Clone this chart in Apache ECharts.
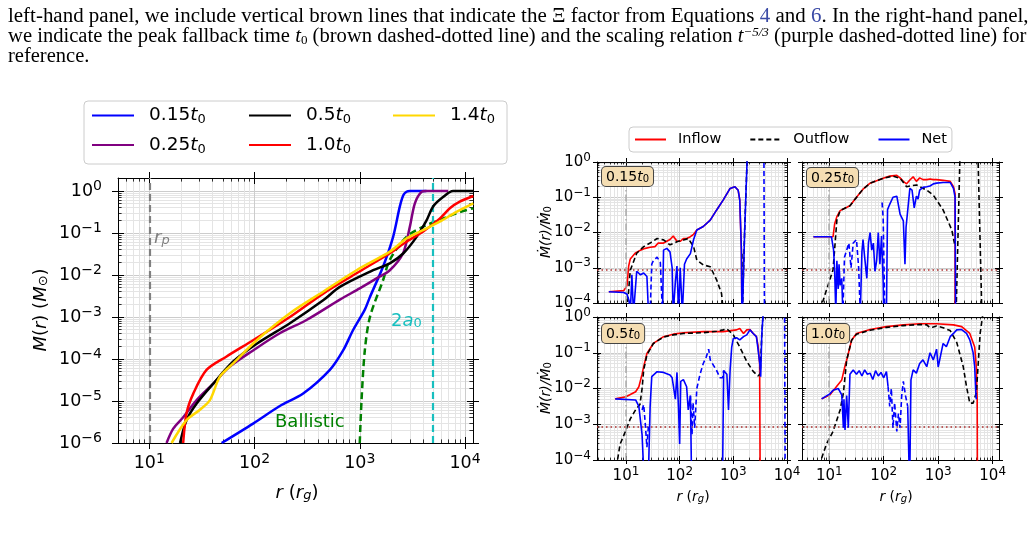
<!DOCTYPE html>
<html>
<head>
<meta charset="utf-8">
<title>Enclosed mass and mass flux</title>
<script src="https://cdn.jsdelivr.net/npm/echarts@6.0.0/dist/echarts.min.js"></script>
<style>
  html, body { margin: 0; padding: 0; background: #fff; }
  #chart { width: 1035px; height: 533px; }
</style>
</head>
<body>
<div id="chart"></div>
<script>
// ---- left panel: enclosed mass, points are [r (r_g), M (M_sun)]
const massTimes = ['0.15', '0.25', '0.5', '1.0', '1.4'];
const massColors = ['#0000ff', '#800080', '#000000', '#ff0000', '#ffd700'];
const mass015 = [[48.7,1e-6],[97,2.9e-6],[174,7.6e-6],[290,1.5e-5],[520,5.5e-5],[695,1.6e-4],[865,4.9e-4],[1117,1.5e-3],[1250,3.0e-3],[1667,1.6e-2],[2075,8.1e-2],[2404,0.43],[2600,0.8],[2780,0.96],[3000,1.0],[4300,1.0]];
const mass025 = [[14.6,1e-6],[16.9,2.2e-6],[21,4.1e-6],[28.2,1.05e-5],[40.6,2.6e-5],[58.3,6.6e-5],[97,1.6e-4],[174,4.1e-4],[312,8.5e-4],[647,2.6e-3],[1000,4.8e-3],[1445,8.3e-3],[1930,1.3e-2],[2580,3.3e-2],[2990,0.14],[3340,0.51],[3860,0.95],[4300,1.0],[6920,1.0]];
const mass05 = [[19.6,1e-6],[22.6,3.5e-6],[28.2,8.7e-6],[40.6,2.6e-5],[62.8,8.7e-5],[105,2.3e-4],[217,7.1e-4],[449,2.5e-3],[647,5.2e-3],[1341,1.3e-2],[1930,1.9e-2],[2600,3.3e-2],[3470,8.1e-2],[4310,0.2],[4980,0.43],[6190,0.72],[7710,1.0],[12000,1.0]];
const mass10 = [[21,1e-6],[22.6,5.1e-6],[26.2,1.5e-5],[35,5.5e-5],[54.3,1.15e-4],[97,2.8e-4],[217,1.0e-3],[449,3.6e-3],[933,1.1e-2],[1930,3.3e-2],[2780,6.2e-2],[3980,0.107],[5750,0.22],[7180,0.39],[8920,0.56],[12000,0.76]];
const mass14 = [[16.3,1e-6],[22.6,3.5e-6],[30.3,6.2e-6],[37.7,1.05e-5],[46.9,3.8e-5],[62.8,7.9e-5],[105,2.8e-4],[217,1.23e-3],[449,4.0e-3],[933,1.3e-2],[1930,3.6e-2],[2780,7.4e-2],[3980,0.117],[5750,0.186],[8300,0.32],[12000,0.51]];
const ballistic = [[1000,1e-6],[1040,1.05e-5],[1117,1.6e-4],[1250,1.0e-3],[1667,7.6e-3],[1930,2.3e-2],[2780,8.1e-2],[3980,0.141],[5750,0.204],[8300,0.295],[12000,0.39]];
const rPeri = 10;      // r_p
const twoA0 = 4900;    // 2 a_0

// ---- right panels: points are [log10 r, log10 Mdot/Mdot0], null breaks the line
const fluxTimes = ['0.15', '0.25', '0.5', '1.0'];
const mdotFloor = 8.5e-4;

const tlIn = [[0.68,-3.68],[0.96,-3.65],[1.02,-3.5],[1.05,-2.95],[1.08,-2.75],[1.17,-2.59],[1.27,-2.50],[1.36,-2.45],[1.45,-2.42],[1.54,-2.40],[1.60,-2.30],[1.70,-2.30],[1.76,-2.25],[1.82,-2.20],[1.88,-2.10],[1.95,-2.25],[2.01,-2.25],[2.07,-2.17],[2.13,-2.17],[2.20,-2.12],[2.26,-2.05],[2.32,-1.93],[2.44,-1.83],[2.57,-1.65],[2.69,-1.36],[2.81,-1.08],[2.94,-0.75],[3.03,-0.70],[3.09,-0.80],[3.12,-1.08],[3.15,-2.50],[3.16,-4.50]];
const tlOut = [[1.02,-4.2],[1.08,-3.07],[1.20,-2.59],[1.33,-2.40],[1.45,-2.30],[1.58,-2.17],[1.70,-2.21],[1.82,-2.35],[1.95,-2.26],[2.07,-2.21],[2.16,-2.17],[2.26,-2.40],[2.32,-2.78],[2.44,-2.92],[2.57,-2.97],[2.69,-3.35],[2.78,-3.73],[2.81,-4.2],null,[3.16,-2.6],[3.162,-4.2],null,[3.17,-4.2],[3.21,-2.0],[3.26,0.2]];
const tlNetPos = [[0.68,-3.68],[0.96,-3.70],[1.02,-3.75],[1.06,-3.95],[1.08,-4.3],[1.11,-3.2],[1.14,-4.3],[1.20,-3.1],[1.27,-3.2],[1.33,-3.15],[1.39,-3.25],[1.42,-4.3],null,[1.68,-4.3],[1.70,-2.5],[1.76,-2.45],[1.82,-2.55],[1.86,-3.0],[1.88,-4.3],[1.92,-3.4],[1.95,-2.95],[1.98,-4.3],[2.01,-3.0],[2.05,-4.3],[2.09,-2.9],[2.13,-2.75],[2.20,-2.6],[2.26,-2.2],[2.32,-1.93],[2.44,-1.83],[2.57,-1.65],[2.69,-1.36],[2.81,-1.08],[2.94,-0.75],[3.03,-0.70],[3.09,-0.80],[3.12,-1.08],[3.15,-2.5],[3.16,-4.3],null,[3.17,-4.3],[3.21,-2.0],[3.26,0.2]];
const tlNetNeg = [[1.45,-4.3],[1.48,-2.9],[1.51,-2.8],[1.58,-2.7],[1.64,-2.85],[1.68,-4.3],null,[3.57,0.2],[3.58,-4.3]];

const trIn = [[0.71,-2.12],[1.07,-2.12],[1.10,-1.75],[1.14,-1.55],[1.20,-1.38],[1.38,-1.24],[1.50,-1.0],[1.62,-0.77],[1.75,-0.60],[1.99,-0.46],[2.11,-0.40],[2.24,-0.38],[2.30,-0.45],[2.36,-0.55],[2.42,-0.62],[2.48,-0.51],[2.54,-0.42],[2.60,-0.55],[2.66,-0.45],[2.72,-0.50],[2.79,-0.50],[2.85,-0.48],[2.91,-0.50],[2.97,-0.50],[3.09,-0.52],[3.22,-0.55],[3.28,-0.70],[3.31,-0.90],[3.31,-4.5]];
const trOut = [[0.83,-4.2],[1.07,-3.06],[1.14,-1.65],[1.20,-1.38],[1.38,-1.24],[1.62,-0.77],[1.75,-0.60],[1.99,-0.46],[2.17,-0.40],[2.30,-0.46],[2.42,-0.70],[2.60,-0.65],[2.79,-0.80],[2.91,-0.94],[3.09,-1.36],[3.25,-1.93],[3.31,-2.40],null,[3.33,-4.2],[3.40,0.2],null,[3.73,0.2],[3.80,-4.2]];
const trNetPos = [[0.71,-2.12],[1.04,-2.12],[1.08,-2.5],[1.10,-3.1],[1.12,-4.3],[1.14,-2.8],[1.165,-3.6],[1.18,-2.9],[1.20,-3.5],[1.23,-3.3],[1.25,-4.3],null,[1.57,-4.3],[1.60,-2.55],[1.62,-2.2],[1.65,-2.7],[1.69,-3.3],[1.72,-2.3],[1.75,-2.0],[1.78,-2.5],[1.81,-2.3],[1.84,-3.1],[1.87,-2.8],[1.90,-2.0],[1.93,-2.9],[1.96,-2.1],[1.99,-3.4],[2.00,-4.3],null,[2.05,-4.3],[2.07,-1.35],[2.11,-1.2],[2.17,-1.0],[2.24,-0.97],[2.30,-1.48],[2.36,-1.67],[2.39,-2.9],[2.41,-1.85],[2.48,-0.75],[2.52,-0.8],[2.56,-1.3],[2.60,-0.97],[2.63,-1.05],[2.66,-0.8],[2.72,-0.72],[2.79,-0.70],[2.85,-0.68],[2.91,-0.62],[2.97,-0.60],[3.09,-0.58],[3.22,-0.58],[3.28,-0.75],[3.31,-1.0],[3.32,-4.3]];
const trNetNeg = [[1.25,-4.3],[1.28,-2.7],[1.32,-2.5],[1.36,-2.3],[1.40,-3.0],[1.44,-2.3],[1.50,-2.2],[1.54,-3.0],[1.57,-4.3],null,[1.97,-1.15],[1.99,-1.6],[2.02,-4.3]];

const blIn = [[0.80,-2.29],[1.00,-2.23],[1.18,-2.09],[1.24,-1.95],[1.30,-1.60],[1.33,-1.39],[1.39,-1.02],[1.51,-0.74],[1.70,-0.55],[1.88,-0.48],[2.07,-0.44],[2.44,-0.41],[2.81,-0.41],[3.06,-0.36],[3.12,-0.32],[3.19,-0.46],[3.25,-0.36],[3.31,-0.35],[3.37,-0.46],[3.43,-0.55],[3.46,-0.80],[3.49,-1.30],[3.50,-4.5]];
const blOut = [[0.82,-4.2],[0.89,-3.56],[0.99,-3.20],[1.08,-2.85],[1.19,-2.57],[1.26,-2.45],[1.30,-2.0],[1.33,-1.48],[1.39,-1.06],[1.51,-0.74],[1.70,-0.56],[1.88,-0.50],[2.07,-0.46],[2.44,-0.44],[2.69,-0.40],[2.81,-0.36],[2.88,-0.33],[3.00,-0.50],[3.12,-0.84],[3.25,-1.24],[3.37,-1.52],[3.46,-1.65],[3.50,-1.60],[3.53,-0.50],[3.56,0.2]];
const blNetPos = [[0.80,-2.29],[1.18,-2.32],[1.24,-2.5],[1.27,-2.9],[1.30,-3.3],[1.33,-4.3],null,[1.42,-4.3],[1.45,-2.5],[1.48,-1.67],[1.58,-1.53],[1.70,-1.55],[1.82,-1.62],[1.86,-1.70],[1.88,-1.72],[1.92,-2.3],[1.95,-1.55],[1.98,-2.6],[2.00,-3.55],[2.02,-1.8],[2.07,-1.75],[2.13,-1.95],[2.16,-2.6],[2.20,-2.2],[2.22,-4.3],null,[2.80,-4.3],[2.82,-1.5],[2.88,-1.6],[2.91,-2.6],[2.94,-1.48],[2.97,-0.84],[3.00,-0.6],[3.06,-0.58],[3.12,-0.64],[3.19,-0.55],[3.25,-0.50],[3.31,-0.36],[3.37,-0.46],[3.43,-0.55],[3.46,-0.9],[3.50,-1.39],[3.51,-1.67],[3.53,-0.5],[3.56,0.2]];
const blNetNeg = [[1.30,-2.6],[1.33,-2.45],[1.36,-3.0],[1.39,-3.64],[1.42,-3.0],null,[2.20,-2.2],[2.23,-3.3],[2.25,-2.4],[2.28,-3.1],[2.32,-2.0],[2.38,-1.6],[2.44,-1.3],[2.50,-1.1],[2.54,-0.90],[2.57,-1.2],[2.60,-1.2],[2.69,-1.5],[2.75,-1.7],[2.80,-1.7],[2.82,-1.5],null,[3.955,0.2],[3.965,-4.3]];

const brIn = [[0.86,-2.29],[1.01,-2.18],[1.23,-1.76],[1.30,-1.30],[1.32,-1.21],[1.41,-0.65],[1.50,-0.46],[1.75,-0.35],[2.05,-0.27],[2.36,-0.22],[2.66,-0.19],[2.97,-0.19],[3.28,-0.22],[3.43,-0.27],[3.58,-0.46],[3.67,-0.84],[3.70,-1.39],[3.716,-2.3],[3.72,-4.5]];
const brOut = [[0.86,-3.95],[0.95,-3.55],[1.07,-3.20],[1.20,-2.60],[1.26,-2.12],[1.32,-1.21],[1.41,-0.65],[1.50,-0.48],[1.75,-0.37],[2.05,-0.29],[2.36,-0.24],[2.66,-0.21],[2.79,-0.22],[2.85,-0.30],[2.91,-0.28],[2.97,-0.25],[3.09,-0.30],[3.22,-0.38],[3.34,-0.71],[3.46,-1.39],[3.52,-1.95],[3.58,-2.41],[3.64,-2.41],[3.70,-2.12],[3.77,-0.46],[3.83,0.2]];
const brNetPos = [[0.86,-2.29],[1.01,-2.15],[1.07,-2.05],[1.165,-2.0],[1.23,-2.18],[1.26,-3.1],[1.27,-2.3],[1.29,-3.16],[1.32,-2.2],[1.35,-3.1],[1.38,-1.6],[1.44,-1.48],[1.50,-1.60],[1.55,-1.50],[1.60,-1.65],[1.65,-1.48],[1.70,-1.60],[1.75,-1.57],[1.80,-1.75],[1.85,-1.50],[1.90,-1.65],[1.95,-1.55],[2.00,-1.70],[2.05,-1.53],[2.08,-1.95],null,[2.44,-2.5],[2.467,-4.3],null,[2.48,-4.3],[2.50,-1.76],[2.54,-1.48],[2.60,-1.57],[2.66,-1.30],[2.72,-1.20],[2.79,-1.39],[2.85,-1.00],[2.91,-1.20],[2.97,-0.90],[3.00,-1.40],[3.09,-0.74],[3.15,-0.83],[3.22,-0.55],[3.28,-0.46],[3.34,-0.36],[3.43,-0.35],[3.52,-0.46],[3.58,-0.64],[3.64,-0.99],[3.67,-1.39],[3.69,-2.12],[3.70,-2.30]];
const brNetNeg = [[2.08,-1.95],[2.11,-2.5],[2.14,-2.0],[2.17,-3.1],[2.20,-2.4],[2.24,-3.2],[2.27,-2.7],[2.30,-3.1],[2.33,-2.2],[2.36,-1.8],[2.40,-2.2],[2.44,-2.5]];

const fluxPanels = [
  {inflow: tlIn, outflow: tlOut, netPos: tlNetPos, netNeg: tlNetNeg},
  {inflow: trIn, outflow: trOut, netPos: trNetPos, netNeg: trNetNeg},
  {inflow: blIn, outflow: blOut, netPos: blNetPos, netNeg: blNetNeg},
  {inflow: brIn, outflow: brOut, netPos: brNetPos, netNeg: brNetNeg}
];

// ---------------------------------------------------------------
const SANS = 'DejaVu Sans';
const SERIF = 'Liberation Serif';

const panels = [
  {grid: {left: 118, top: 178, width: 355, height: 265}, x: [0.703, 4.076], y: [-6, 0.31], xLab: true, yLab: true, fs: 17.5, xm: 9, ym: 16, tk: 6},
  {grid: {left: 597, top: 162, width: 190, height: 141}, x: [0.46, 4.0], y: [-4, 0], xLab: false, yLab: true, fs: 15, xm: 6, ym: 6, tk: 4},
  {grid: {left: 802, top: 162, width: 197, height: 141}, x: [0.5, 4.116], y: [-4, 0], xLab: false, yLab: false, fs: 15, xm: 6, ym: 6, tk: 4},
  {grid: {left: 597, top: 317, width: 190, height: 143}, x: [0.46, 4.0], y: [-4, 0], xLab: true, yLab: true, fs: 15, xm: 6, ym: 6, tk: 4},
  {grid: {left: 802, top: 317, width: 197, height: 143}, x: [0.5, 4.116], y: [-4, 0], xLab: true, yLab: false, fs: 15, xm: 6, ym: 6, tk: 4}
];

function majorLogs(r) {
  const out = [];
  for (let d = Math.ceil(r[0]); d <= Math.floor(r[1]); d++) out.push(d);
  return out;
}
function minorLogs(r) {
  const out = [];
  for (let d = Math.floor(r[0]) - 1; d <= Math.ceil(r[1]); d++) {
    for (let k = 2; k <= 9; k++) {
      const v = d + Math.log10(k);
      if (v > r[0] + 1e-6 && v < r[1] - 1e-6) out.push(v);
    }
  }
  return out;
}
function pow10(v) {
  const e = Math.round(v);
  return '{b|10}{s|' + (e < 0 ? '\u2212' + (-e) : e) + '}';
}

// each side gets: major ticks pointing out (with labels), major ticks in, minor ticks in
function axisSet(dim, gi, p) {
  const range = dim === 'x' ? p.x : p.y;
  const withLabels = dim === 'x' ? p.xLab : p.yLab;
  const fs = p.fs;
  const sides = dim === 'x' ? ['bottom', 'top'] : ['left', 'right'];
  const maj = majorLogs(range), mnr = minorLogs(range);
  const kinds = [
    {vals: maj, inside: false, len: p.tk, line: true, grid: '#cccccc'},
    {vals: maj, inside: true, len: p.tk, line: false, grid: null},
    {vals: mnr, inside: true, len: p.tk * 0.6, line: false, grid: '#e4e4e4'}
  ];
  const out = [];
  sides.forEach((side, si) => {
    kinds.forEach((kd, ki) => {
      out.push({
        type: 'value', gridIndex: gi, position: side,
        min: range[0], max: range[1],
        axisLine: {show: kd.line, onZero: false, lineStyle: {color: '#000', width: 1}},
        axisTick: {show: true, customValues: kd.vals, inside: kd.inside, length: kd.len,
                   lineStyle: {color: '#000', width: ki === 2 ? 0.8 : 1}},
        axisLabel: {
          show: ki === 0 && si === 0 && withLabels, customValues: kd.vals, formatter: pow10,
          margin: dim === 'x' ? p.xm : p.ym, color: '#000', fontFamily: SANS, fontSize: fs,
          rich: {
            b: {fontFamily: SANS, fontSize: fs, color: '#000', lineHeight: fs + 6},
            s: {fontFamily: SANS, fontSize: Math.round(fs * 0.8), color: '#000',
                verticalAlign: 'top', lineHeight: Math.round(fs * 0.8)}
          }
        },
        splitLine: {show: si === 0 && !!kd.grid, lineStyle: {color: kd.grid || '#ccc', width: 1}}
      });
    });
  });
  return out;
}

const xAxes = [], yAxes = [];
panels.forEach((p, gi) => {
  p.xi = xAxes.length;
  p.yi = yAxes.length;
  xAxes.push(...axisSet('x', gi, p));
  yAxes.push(...axisSet('y', gi, p));
});

const toLog = pts => pts.map(p => [Math.log10(p[0]), Math.log10(p[1])]);
const gaps = pts => pts.map(p => p ? p : ['-', '-']);

const series = [];
const P0 = panels[0];
series.push({
  type: 'line', name: 'Ballistic', xAxisIndex: P0.xi, yAxisIndex: P0.yi,
  data: toLog(ballistic), symbol: 'none', smooth: 0.3,
  lineStyle: {color: '#008000', width: 2.5, type: [7, 4]}, z: 3,
  markLine: {
    silent: true, symbol: 'none', label: {show: false}, animation: false,
    data: [
      {xAxis: Math.log10(rPeri), lineStyle: {color: '#808080', width: 2.2, type: [7, 4]}},
      {xAxis: Math.log10(twoA0), lineStyle: {color: '#17bfbf', width: 2.2, type: [7, 4]}}
    ]
  }
});
[mass015, mass025, mass05, mass10, mass14].forEach((curve, i) => {
  series.push({
    type: 'line', name: massTimes[i], xAxisIndex: P0.xi, yAxisIndex: P0.yi,
    data: toLog(curve), symbol: 'none', smooth: 0.3,
    lineStyle: {color: massColors[i], width: 2.5}, itemStyle: {color: massColors[i]}, z: 4 + i
  });
});

fluxPanels.forEach((fp, k) => {
  const p = panels[k + 1];
  const common = {type: 'line', xAxisIndex: p.xi, yAxisIndex: p.yi, symbol: 'none', connectNulls: false};
  series.push(Object.assign({}, common, {
    name: 'Inflow', data: gaps(fp.inflow), lineStyle: {color: '#ff0000', width: 1.6}, itemStyle: {color: '#ff0000'}, z: 3,
    markLine: {
      silent: true, symbol: 'none', label: {show: false}, animation: false,
      data: [
        {xAxis: Math.log10(rPeri), lineStyle: {color: '#aaaaaa', width: 1.5, type: [7, 3, 1.5, 3]}},
        {yAxis: Math.log10(mdotFloor), lineStyle: {color: '#b03030', width: 1.5, type: [1.5, 3]}}
      ]
    }
  }));
  series.push(Object.assign({}, common, {
    name: 'Outflow', data: gaps(fp.outflow), lineStyle: {color: '#000', width: 1.6, type: [5, 3]}, itemStyle: {color: '#000'}, z: 4
  }));
  series.push(Object.assign({}, common, {
    name: 'Net', data: gaps(fp.netPos), lineStyle: {color: '#0000ff', width: 1.6}, itemStyle: {color: '#0000ff'}, z: 5
  }));
  series.push(Object.assign({}, common, {
    name: 'Net (negative)', data: gaps(fp.netNeg), lineStyle: {color: '#0000ff', width: 1.6, type: [5, 3]}, itemStyle: {color: '#0000ff'}, z: 5
  }));
});

// legend text with italic t and subscript 0
const legendRich = {
  n: {fontFamily: SANS, fontSize: 18.5, color: '#000', lineHeight: 22, padding: [0, 0, 0, 10]},
  i: {fontFamily: SANS, fontSize: 18.5, fontStyle: 'italic', color: '#000', lineHeight: 22},
  u: {fontFamily: SANS, fontSize: 13, color: '#000', verticalAlign: 'bottom', lineHeight: 13}
};
function massLegend(names, left) {
  return {
    data: names, left: left, top: 106, orient: 'vertical', itemWidth: 42, itemHeight: 20, itemGap: 9,
    padding: 0, selectedMode: false, itemStyle: {opacity: 0},
    formatter: n => '{n|' + n + '}{i|t}{u|0}',
    textStyle: {rich: legendRich}
  };
}

const tanRich = {
  n: {fontFamily: SANS, fontSize: 14, fill: '#000'},
  i: {fontFamily: SANS, fontSize: 14, fontStyle: 'italic', fill: '#000'},
  u: {fontFamily: SANS, fontSize: 10, fill: '#000', verticalAlign: 'bottom', lineHeight: 10}
};
const tanPos = [[602, 167], [807, 168], [602, 324], [807, 324]];

const PF = 20.5;
const serifRich = {
  r: {fontFamily: SERIF, fontSize: PF, fill: '#000'},
  lk: {fontFamily: SERIF, fontSize: PF, fill: '#3b4ba6'},
  it: {fontFamily: SERIF, fontSize: PF, fontStyle: 'italic', fill: '#000'},
  u: {fontFamily: SERIF, fontSize: 13, fill: '#000', verticalAlign: 'bottom', lineHeight: 13},
  p: {fontFamily: SERIF, fontSize: 13, fontStyle: 'italic', fill: '#000', verticalAlign: 'top', lineHeight: 13}
};

const labelRich = (color, fs) => ({
  n: {fontFamily: SANS, fontSize: fs, fill: color},
  i: {fontFamily: SANS, fontSize: fs, fontStyle: 'italic', fill: color},
  u: {fontFamily: SANS, fontSize: Math.round(fs * 0.7), fontStyle: 'italic', fill: color, verticalAlign: 'bottom', lineHeight: Math.round(fs * 0.7)},
  d: {fontFamily: SANS, fontSize: Math.round(fs * 0.7), fill: color, verticalAlign: 'bottom', lineHeight: Math.round(fs * 0.7)}
});

function txt(x, y, text, rich, opts) {
  const o = opts || {};
  return {
    type: 'text', x: x, y: y, z: 20, silent: true, rotation: o.rotation || 0, scaleX: o.scaleX || 1,
    style: {text: text, rich: rich, fill: '#000', align: o.align || 'left', verticalAlign: o.va || 'top'}
  };
}
const centred = {align: 'center', va: 'middle'};
const vertical = {align: 'center', va: 'middle', rotation: Math.PI / 2};
const rLabel = '{i|r}{n| (}{i|r}{u|g}{n|)}';
const mdotLabel = '{i|\u1E40(r)/\u1E40}{d|0}';

const graphics = [
  txt(8, 6, '{r|left-hand panel, we include vertical brown lines that indicate the \u039E factor from Equations }{lk|4}{r| and }{lk|6}{r|. In the right-hand panel,}', serifRich, {scaleX: 1.022}),
  txt(8, 26, '{r|we indicate the peak fallback time }{it|t}{u|0}{r| (brown dashed-dotted line) and the scaling relation }{it|t}{p|\u22125/3}{r| (purple dashed-dotted line) for}', serifRich, {scaleX: 1.005}),
  txt(8, 46, '{r|reference.}', serifRich),
  {type: 'rect', shape: {x: 84, y: 101, width: 423, height: 63, r: 4}, z: 1, silent: true,
   style: {fill: '#fff', stroke: '#cccccc', lineWidth: 1}},
  txt(154, 229, '{i|r}{u|p}', labelRich('#808080', 18)),
  txt(391, 312, '{n|2}{i|a}{d|0}', labelRich('#17bfbf', 18)),
  txt(275, 413, '{n|Ballistic}', labelRich('#008000', 18)),
  txt(41, 310, '{i|M}{n|(}{i|r}{n|) (}{i|M}{d|\u2299}{n|)}', labelRich('#000', 18), vertical),
  txt(297, 493, rLabel, labelRich('#000', 18), centred),
  txt(693, 497, rLabel, labelRich('#000', 14), centred),
  txt(896, 497, rLabel, labelRich('#000', 14), centred),
  txt(546, 232, mdotLabel, labelRich('#000', 14), vertical),
  txt(546, 388, mdotLabel, labelRich('#000', 14), vertical)
];
fluxTimes.forEach((t, k) => {
  graphics.push({
    type: 'text', x: tanPos[k][0], y: tanPos[k][1], z: 20, silent: true,
    style: {
      text: '{n|' + t + '}{i|t}{u|0}', rich: tanRich, align: 'left', verticalAlign: 'top',
      backgroundColor: '#f5deb3', borderColor: '#444', borderWidth: 1, borderRadius: 4, padding: [3, 4, 2, 4]
    }
  });
});

const option = {
  animation: false,
  backgroundColor: '#ffffff',
  grid: panels.map(p => Object.assign({containLabel: false, outerBoundsMode: 'none'}, p.grid)),
  xAxis: xAxes,
  yAxis: yAxes,
  legend: [
    massLegend(['0.15', '0.25'], 91),
    massLegend(['0.5', '1.0'], 248),
    massLegend(['1.4'], 392),
    {
      data: ['Inflow', 'Outflow', 'Net'], left: 629, top: 127, orient: 'horizontal',
      itemWidth: 31, itemHeight: 16, itemGap: 28, selectedMode: false, itemStyle: {opacity: 0},
      padding: [5, 5, 5, 5], borderColor: '#cccccc', borderWidth: 1, borderRadius: 4,
      formatter: n => '{a|' + n + '}',
      textStyle: {rich: {a: {fontFamily: SANS, fontSize: 14.5, color: '#000', padding: [0, 0, 0, 7]}}}
    }
  ],
  graphic: graphics,
  series: series
};

const chart = echarts.init(document.getElementById('chart'));
chart.setOption(option);
</script>
</body>
</html>
